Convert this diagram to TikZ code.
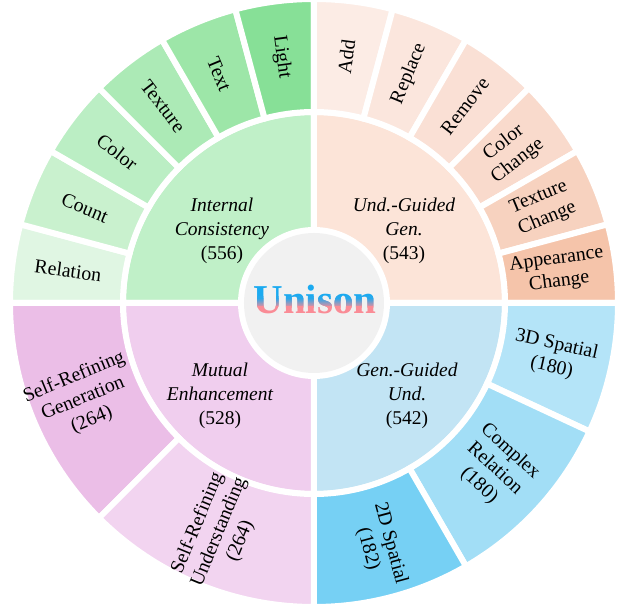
\documentclass[tikz,border=0pt]{standalone}
\usepackage{fontspec}
\setmainfont{Liberation Serif}
\definecolor{gmid}{RGB}{192,240,200}
\definecolor{g1}{RGB}{224,246,227}
\definecolor{g2}{RGB}{201,241,206}
\definecolor{g3}{RGB}{187,238,196}
\definecolor{g4}{RGB}{172,234,182}
\definecolor{g5}{RGB}{157,230,168}
\definecolor{g6}{RGB}{135,224,151}
\definecolor{omid}{RGB}{252,228,216}
\definecolor{o1}{RGB}{252,236,229}
\definecolor{o2}{RGB}{251,230,221}
\definecolor{o3}{RGB}{250,224,213}
\definecolor{o4}{RGB}{249,218,204}
\definecolor{o5}{RGB}{247,210,191}
\definecolor{o6}{RGB}{245,196,170}
\definecolor{bmid}{RGB}{194,228,244}
\definecolor{b1}{RGB}{180,228,248}
\definecolor{b2}{RGB}{162,222,246}
\definecolor{b3}{RGB}{118,208,244}
\definecolor{pmid}{RGB}{240,206,238}
\definecolor{p1}{RGB}{235,190,231}
\definecolor{p2}{RGB}{242,212,240}
\definecolor{cgray}{RGB}{241,241,241}
\definecolor{ublue}{RGB}{27,170,240}
\definecolor{upink}{RGB}{250,140,150}
\newcommand{\sunsec}[5]{%
  \filldraw[sector, fill=#1] (#2:#4pt) arc[start angle=#2, end angle=#3, radius=#4pt]
    -- (#3:#5pt) arc[start angle=#3, end angle=#2, radius=#5pt] -- cycle;}
\begin{document}
\begin{tikzpicture}[x=1pt, y=1pt,
  sector/.style={draw=white, line width=6pt, line join=miter},
  outer/.style={font=\fontsize{19.8}{23}\selectfont, align=center, inner sep=0pt, text=black},
  mid/.style={font=\fontsize{19.5}{24}\selectfont\itshape, align=center, inner sep=0pt, text=black},
  title/.style={font=\fontsize{41}{41}\selectfont\bfseries, inner sep=0pt, anchor=base}]
\useasboundingbox (-314,-304) rectangle (305,303);
% middle ring
\sunsec{gmid}{90}{180}{73}{191}
\sunsec{omid}{0}{90}{73}{191}
\sunsec{bmid}{-90}{0}{73}{191}
\sunsec{pmid}{180}{270}{73}{191}
% outer ring: green
\sunsec{g1}{180}{165}{191}{304}
\sunsec{g2}{165}{150}{191}{304}
\sunsec{g3}{150}{135}{191}{304}
\sunsec{g4}{135}{120}{191}{304}
\sunsec{g5}{120}{105}{191}{304}
\sunsec{g6}{105}{90}{191}{304}
% orange
\sunsec{o1}{90}{75}{191}{304}
\sunsec{o2}{75}{60}{191}{304}
\sunsec{o3}{60}{45}{191}{304}
\sunsec{o4}{45}{30}{191}{304}
\sunsec{o5}{30}{15}{191}{304}
\sunsec{o6}{15}{0}{191}{304}
% blue
\sunsec{b1}{0}{-25}{191}{304}
\sunsec{b2}{-25}{-60}{191}{304}
\sunsec{b3}{-60}{-90}{191}{304}
% pink
\sunsec{p1}{180}{225}{191}{304}
\sunsec{p2}{225}{270}{191}{304}
% centre
\fill[cgray] (0,0) circle[radius=70pt];
% outer labels
\node[outer, rotate=-7.5]  (relation) at (172.5:248pt) {Relation};
\node[outer, rotate=-22.5] (count)    at (157.5:248pt) {Count};
\node[outer, rotate=-37.5] (color)    at (142.5:248pt) {Color};
\node[outer, rotate=-52.5] (texture)  at (127.5:248pt) {Texture};
\node[outer, rotate=-67.5] (text)     at (112.5:248pt) {Text};
\node[outer, rotate=-82.5] (light)    at (97.5:248pt) {Light};
\node[outer, rotate=82.5]  (add)      at (82.5:248pt) {Add};
\node[outer, rotate=67.5]  (replace)  at (67.5:248pt) {Replace};
\node[outer, rotate=52.5]  (remove)   at (52.5:248pt) {Remove};
\node[outer, rotate=37.5]  (colch)    at (37.5:248pt) {Color\\Change};
\node[outer, rotate=22.5]  (texch)    at (22.5:248pt) {Texture\\Change};
\node[outer, rotate=7.5]   (appch)    at (7.5:246pt) {Appearance\\Change};
\node[outer, rotate=-12.5] (sp3)      at (-12.5:246pt) {3D Spatial\\(180)};
\node[outer, rotate=-42.5] (cplx)     at (-42.5:245pt) {Complex\\Relation\\(180)};
\node[outer, rotate=-75]   (sp2)      at (-75:252pt) {2D Spatial\\(182)};
\node[outer, rotate=22.5]  (srg)      at (202.5:250pt) {Self-Refining\\Generation\\(264)};
\node[outer, rotate=67.5]  (sru)      at (247.5:248pt) {Self-Refining\\Understanding\\(264)};
% middle labels
\node[mid] (ic)  at (-92,72)  {Internal\\Consistency\\{\upshape(556)}};
\node[mid] (ugg) at (90,72)   {Und.-Guided\\Gen.\\{\upshape(543)}};
\node[mid] (ggu) at (93,-93)  {Gen.-Guided\\Und.\\{\upshape(542)}};
\node[mid] (me)  at (-94,-93) {Mutual\\Enhancement\\{\upshape(528)}};
% centre title with vertical gradient (blue top, pink bottom)
\begin{scope}
  \clip (-80,6) rectangle (80,40);
  \node[title, text=ublue] (unison) at (1,-11) {Unison};
\end{scope}
\foreach \yy in {-4,...,5}{
  \pgfmathsetmacro{\pc}{min(100,max(0,(\yy+4.5)*10))}
  \begin{scope}
    \clip (-80,\yy-0.1) rectangle (80,\yy+1.1);
    \node[title, text=ublue!\pc!upink] (unisonband\yy) at (1,-11) {Unison};
  \end{scope}
}
\begin{scope}
  \clip (-80,-40) rectangle (80,-4);
  \node[title, text=upink] (unisonpink) at (1,-11) {Unison};
\end{scope}
\end{tikzpicture}
\end{document}
